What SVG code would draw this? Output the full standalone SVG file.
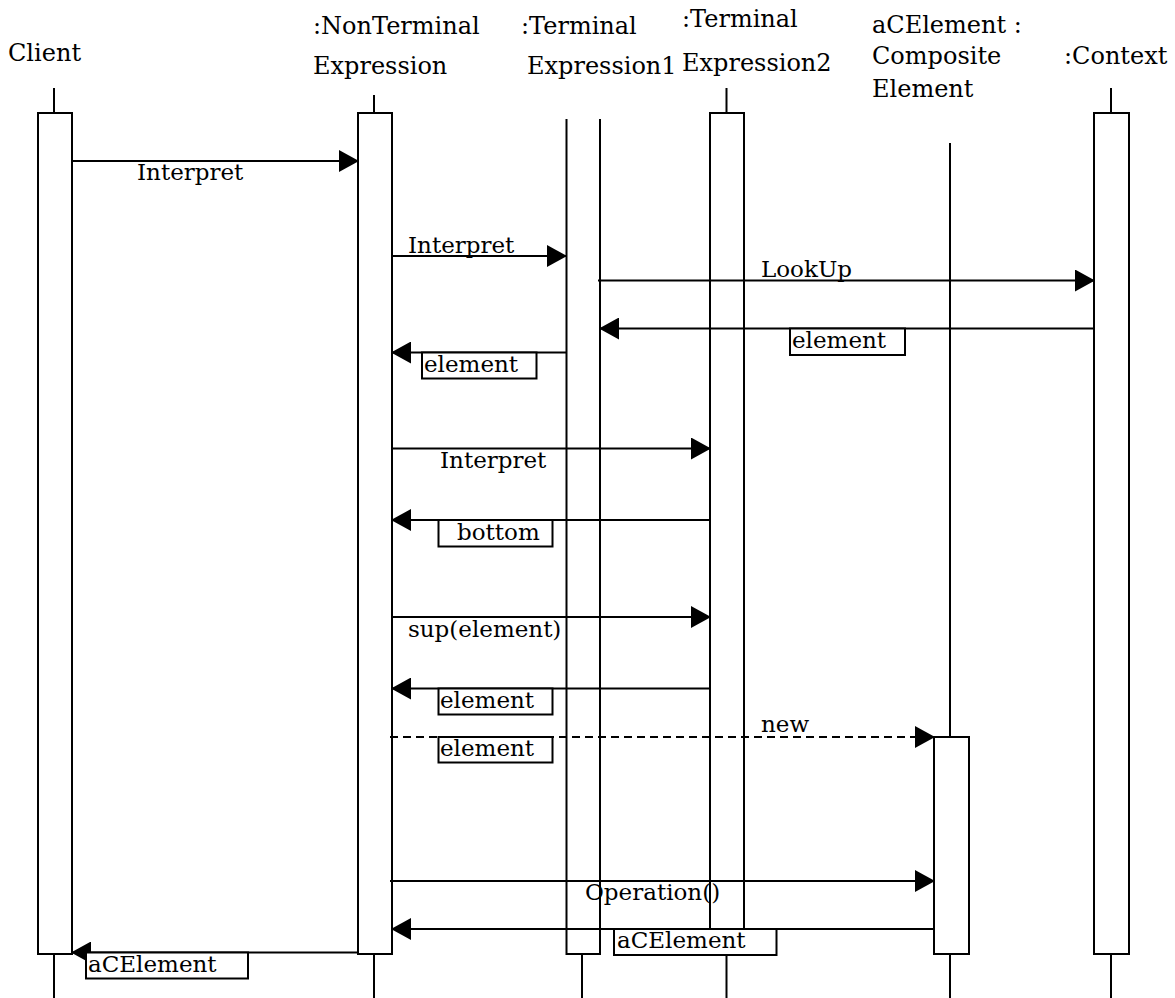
<svg xmlns="http://www.w3.org/2000/svg" width="1175" height="998" viewBox="0 0 1175 998">
<style>
.ln{stroke:#000;stroke-width:2;fill:none}
.bx{stroke:#000;stroke-width:2;fill:#fff}
.msg{stroke:#000;stroke-width:2;fill:none;marker-end:url(#ah)}
.dash{stroke-dasharray:8 5}
.lb{stroke:#000;stroke-width:2;fill:#fff}
.hd{font-family:"DejaVu Serif","Liberation Serif",serif;font-size:24px;fill:#000}
.tx{font-family:"DejaVu Serif","Liberation Serif",serif;font-size:23px;fill:#000}
</style>
<defs>
<marker id="ah" markerUnits="userSpaceOnUse" markerWidth="20" markerHeight="22" refX="19" refY="11" orient="auto">
<path d="M0,0 L20,11 L0,22 z" fill="#000"/>
</marker>
</defs>
<rect width="1175" height="998" fill="#fff"/>

<g id="client">
<text class="hd" x="8" y="61">Client</text>
<line class="ln" x1="54" y1="88" x2="54" y2="113"/>
<rect class="bx" x="38" y="113" width="34" height="841"/>
<line class="ln" x1="54" y1="954" x2="54" y2="998"/>
</g>

<g id="nonterminal">
<text class="hd" x="313" y="34">:NonTerminal</text>
<text class="hd" x="313" y="74">Expression</text>
<line class="ln" x1="374" y1="95" x2="374" y2="113"/>
<rect class="bx" x="358" y="113" width="34" height="841"/>
<line class="ln" x1="374" y1="954" x2="374" y2="998"/>
</g>

<g id="terminal1">
<text class="hd" x="521" y="34">:Terminal</text>
<text class="hd" x="527" y="74">Expression1</text>
<path class="ln" d="M566.5,119 V954 H600 V119"/>
<line class="ln" x1="582" y1="954" x2="582" y2="998"/>
</g>

<g id="terminal2">
<text class="hd" x="682" y="27">:Terminal</text>
<text class="hd" x="682" y="71">Expression2</text>
<line class="ln" x1="726.5" y1="88" x2="726.5" y2="113"/>
<rect class="bx" x="710" y="113" width="34" height="841"/>
<line class="ln" x1="726.5" y1="954" x2="726.5" y2="998"/>
</g>

<g id="composite">
<text class="hd" x="872" y="33">aCElement :</text>
<text class="hd" x="872" y="64">Composite</text>
<text class="hd" x="872" y="97">Element</text>
<line class="ln" x1="950" y1="143" x2="950" y2="737"/>
<rect class="bx" x="934" y="737" width="35" height="217"/>
<line class="ln" x1="950" y1="954" x2="950" y2="998"/>
</g>

<g id="context">
<text class="hd" x="1064" y="64">:Context</text>
<line class="ln" x1="1111" y1="88" x2="1111" y2="113"/>
<rect class="bx" x="1094" y="113" width="35" height="841"/>
<line class="ln" x1="1111" y1="954" x2="1111" y2="998"/>
</g>

<g id="connectors">
<line class="msg" x1="72" y1="161" x2="358" y2="161"/>
<line class="msg" x1="392" y1="256" x2="566" y2="256"/>
<line class="msg" x1="598" y1="280.5" x2="1094" y2="280.5"/>
<line class="msg" x1="1094" y1="328.5" x2="600" y2="328.5"/>
<line class="msg" x1="566" y1="352.5" x2="392" y2="352.5"/>
<line class="msg" x1="392" y1="448.5" x2="710" y2="448.5"/>
<line class="msg" x1="710" y1="520" x2="392" y2="520"/>
<line class="msg" x1="392" y1="617" x2="710" y2="617"/>
<line class="msg" x1="710" y1="688.5" x2="392" y2="688.5"/>
<line class="msg dash" x1="390" y1="737" x2="934" y2="737"/>
<line class="msg" x1="390" y1="881" x2="934" y2="881"/>
<line class="msg" x1="934" y1="929" x2="392" y2="929"/>
<line class="msg" x1="358" y1="952.5" x2="72" y2="952.5"/>
</g>

<g id="labels">
<text class="tx" x="137" y="180">Interpret</text>
<text class="tx" x="408" y="253">Interpret</text>
<text class="tx" x="761" y="277">LookUp</text>
<rect class="lb" x="790" y="328.5" width="115" height="26.5"/>
<text class="tx" x="792" y="348">element</text>
<rect class="lb" x="422" y="352.5" width="114.5" height="26"/>
<text class="tx" x="424" y="372">element</text>
<text class="tx" x="440" y="468">Interpret</text>
<rect class="lb" x="438.5" y="520" width="114" height="26.5"/>
<text class="tx" x="457" y="540">bottom</text>
<text class="tx" x="408" y="637">sup(element)</text>
<rect class="lb" x="438.5" y="688.5" width="114" height="26"/>
<text class="tx" x="440" y="708">element</text>
<text class="tx" x="761" y="732">new</text>
<rect class="lb" x="438.5" y="737" width="114" height="25.5"/>
<text class="tx" x="440" y="756">element</text>
<text class="tx" x="585" y="900">Operation()</text>
<rect class="lb" x="614" y="929" width="162.5" height="26"/>
<text class="tx" x="617" y="948">aCElement</text>
<rect class="lb" x="86" y="952.5" width="162" height="26"/>
<text class="tx" x="88" y="972">aCElement</text>
</g>
</svg>
